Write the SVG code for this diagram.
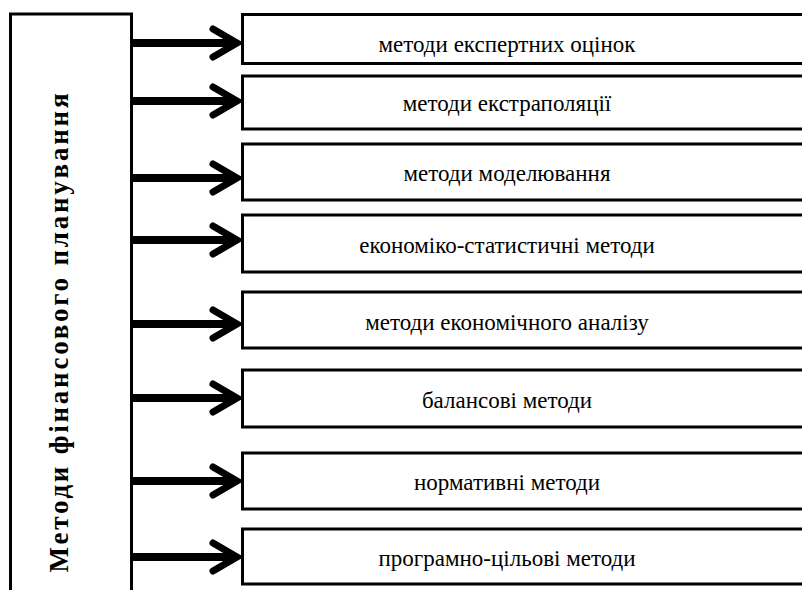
<svg xmlns="http://www.w3.org/2000/svg" width="802" height="590" viewBox="0 0 802 590">
<style>
.box{fill:#fff;stroke:#000;stroke-width:3}
.t{font-family:"Liberation Serif","Times New Roman",serif;font-size:23px;fill:#000;text-anchor:middle}
.vt{font-family:"Liberation Serif","Times New Roman",serif;font-size:27px;font-weight:bold;fill:#000;text-anchor:middle}
.shaft{stroke:#000;stroke-width:8;fill:none}
.head{stroke:#000;stroke-width:7;fill:none;stroke-linecap:round;stroke-linejoin:miter}
</style>
<rect width="802" height="590" fill="#fff"/>
<g id="main">
<rect class="box" x="10.5" y="14" width="121" height="600"/>
<text class="vt" transform="translate(68,333) rotate(-90)" textLength="479" lengthAdjust="spacing">Методи фінансового планування</text>
</g>
<g id="connectors">
<line class="shaft" x1="131" y1="43" x2="236" y2="43"/><polyline class="head" points="213,29 237,43 213,57"/>
<line class="shaft" x1="131" y1="101" x2="236" y2="101"/><polyline class="head" points="213,87 237,101 213,115"/>
<line class="shaft" x1="131" y1="178" x2="236" y2="178"/><polyline class="head" points="213,164 237,178 213,192"/>
<line class="shaft" x1="131" y1="240" x2="236" y2="240"/><polyline class="head" points="213,226 237,240 213,254"/>
<line class="shaft" x1="131" y1="324" x2="236" y2="324"/><polyline class="head" points="213,310 237,324 213,338"/>
<line class="shaft" x1="131" y1="398" x2="236" y2="398"/><polyline class="head" points="213,384 237,398 213,412"/>
<line class="shaft" x1="131" y1="481" x2="236" y2="481"/><polyline class="head" points="213,467 237,481 213,495"/>
<line class="shaft" x1="131" y1="557" x2="236" y2="557"/><polyline class="head" points="213,543 237,557 213,571"/>
</g>
<g id="n1"><rect class="box" x="242.5" y="14.5" width="600" height="49"/><text class="t" x="507" y="52">методи експертних оцінок</text></g>
<g id="n2"><rect class="box" x="242.5" y="76" width="600" height="53"/><text class="t" x="507" y="111">методи екстраполяції</text></g>
<g id="n3"><rect class="box" x="242.5" y="144" width="600" height="56"/><text class="t" x="507" y="181">методи моделювання</text></g>
<g id="n4"><rect class="box" x="242.5" y="215" width="600" height="57"/><text class="t" x="507" y="253">економіко-статистичні методи</text></g>
<g id="n5"><rect class="box" x="242.5" y="292" width="600" height="56"/><text class="t" x="507" y="330">методи економічного аналізу</text></g>
<g id="n6"><rect class="box" x="242.5" y="370" width="600" height="57"/><text class="t" x="507" y="408">балансові методи</text></g>
<g id="n7"><rect class="box" x="242.5" y="453" width="600" height="56"/><text class="t" x="507" y="490">нормативні методи</text></g>
<g id="n8"><rect class="box" x="242.5" y="529" width="600" height="55"/><text class="t" x="507" y="566">програмно-цільові методи</text></g>
</svg>
